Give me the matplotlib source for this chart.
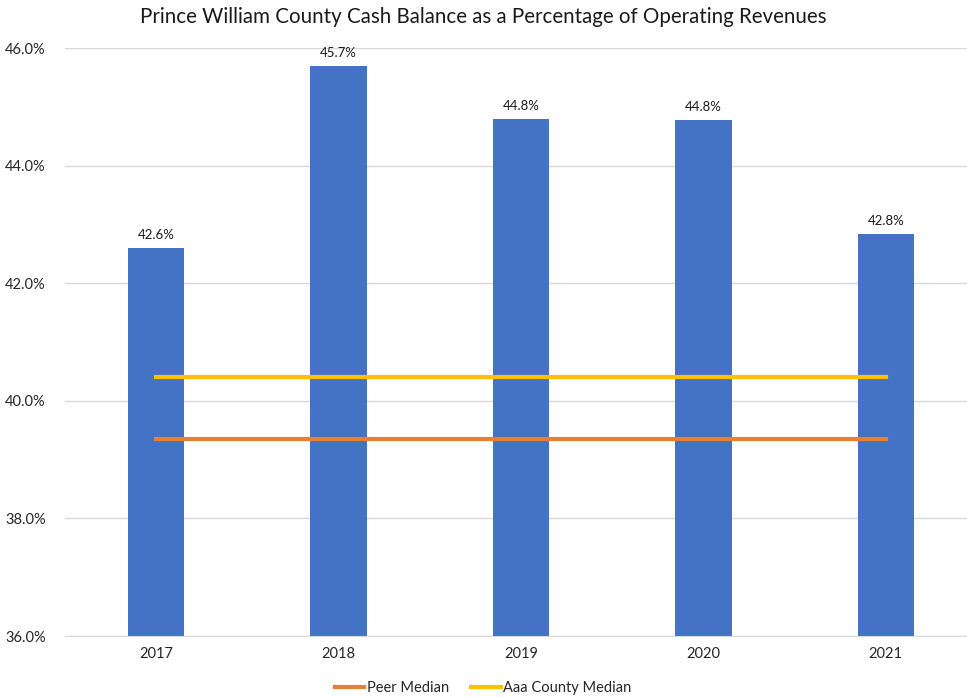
import matplotlib.pyplot as plt
import numpy as np

plt.rcParams['font.family'] = ['Lato', 'DejaVu Sans']

years = ['2017', '2018', '2019', '2020', '2021']
cash_pct = [42.6, 45.7, 44.8, 44.77, 42.84]
peer_median = [39.35] * 5
aaa_median = [40.4] * 5

fig = plt.figure(figsize=(9.67, 6.98), dpi=100)
ax = fig.add_axes([65 / 967, 62 / 698, 912 / 967, 588 / 698])

x = np.arange(len(years))
ax.bar(x, cash_pct, width=0.31, color='#4472C4', zorder=2)
for xi, v in zip(x, cash_pct):
    ax.annotate(f'{v:.1f}%', (xi, v), xytext=(0, 5), textcoords='offset points',
                ha='center', va='bottom', fontsize=9.5, color='#1a1a1a')

ax.plot(x, peer_median, color='#ED7D31', lw=3, label='Peer Median', zorder=3)
ax.plot(x, aaa_median, color='#FFC000', lw=3, label='Aaa County Median', zorder=3)

ax.set_xlim(-0.5, 4.5)
ax.set_ylim(36, 46)
ax.set_yticks(np.arange(36, 46.1, 2))
ax.set_yticklabels([f'{t:.1f}%' for t in np.arange(36, 46.1, 2)])
ax.set_xticks(x)
ax.set_xticklabels(years)
ax.tick_params(length=0, labelsize=10.5, colors='#262626', pad=8)
ax.tick_params(axis='y', pad=14)
ax.grid(axis='y', color='#D9D9D9', lw=1, zorder=0)
ax.set_axisbelow(True)
for s in ['top', 'right', 'left']:
    ax.spines[s].set_visible(False)
ax.spines['bottom'].set_color('#D9D9D9')

fig.text(0.5, 0.975, 'Prince William County Cash Balance as a Percentage of Operating Revenues',
         ha='center', va='center', fontsize=14.8, color='#1a1a1a')
fig.legend(loc='center', bbox_to_anchor=(0.5, 10 / 698), ncol=2, frameon=False,
           fontsize=10.5, handlelength=2, columnspacing=1.5, handletextpad=0.2,
           labelcolor='#262626')

fig.savefig('out.png', dpi=100)
